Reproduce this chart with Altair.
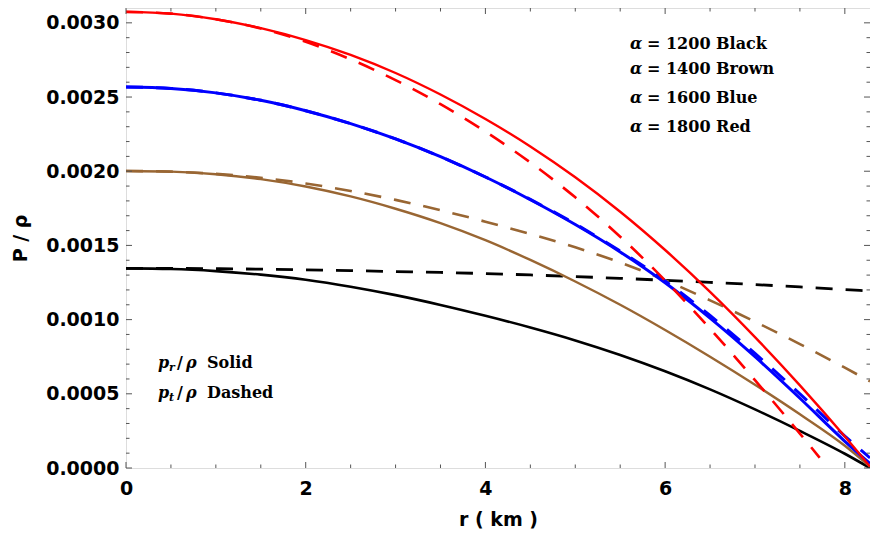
import altair as alt
import pandas as pd

# radial coordinate (km)
r = [0, 0.5, 1, 1.5, 2, 2.5, 3, 3.5, 4, 4.5, 5, 5.5, 6, 6.5, 7, 7.5, 8, 8.28]
r_red_dashed = [0, 0.5, 1, 1.5, 2, 2.5, 3, 3.5, 4, 4.5, 5, 5.5, 6, 6.5, 7, 7.5, 7.72]

# P/rho values in units of 1e-3
black_solid = [1.345, 1.341, 1.327, 1.303, 1.269, 1.222, 1.165, 1.099, 1.026, 0.947, 0.860, 0.762, 0.652, 0.530, 0.395, 0.250, 0.096, 0.0]
black_dashed = [1.345, 1.345, 1.343, 1.340, 1.335, 1.330, 1.324, 1.318, 1.310, 1.301, 1.290, 1.278, 1.265, 1.251, 1.236, 1.220, 1.203, 1.193]
brown_solid = [2.002, 1.997, 1.980, 1.947, 1.897, 1.830, 1.747, 1.650, 1.535, 1.402, 1.257, 1.100, 0.930, 0.750, 0.561, 0.362, 0.150, 0.010]
brown_dashed = [2.002, 1.997, 1.982, 1.956, 1.917, 1.867, 1.807, 1.737, 1.660, 1.577, 1.487, 1.385, 1.265, 1.130, 0.986, 0.835, 0.676, 0.584]
blue_solid = [2.568, 2.558, 2.528, 2.478, 2.408, 2.321, 2.218, 2.098, 1.961, 1.808, 1.641, 1.456, 1.248, 1.010, 0.750, 0.470, 0.180, 0.030]
blue_dashed = [2.568, 2.558, 2.528, 2.478, 2.408, 2.321, 2.218, 2.098, 1.961, 1.810, 1.645, 1.462, 1.260, 1.028, 0.772, 0.500, 0.215, 0.068]
red_solid = [3.074, 3.062, 3.024, 2.964, 2.884, 2.784, 2.662, 2.517, 2.352, 2.167, 1.959, 1.727, 1.469, 1.187, 0.882, 0.557, 0.212, 0.010]
red_dashed = [3.074, 3.062, 3.024, 2.962, 2.872, 2.754, 2.614, 2.452, 2.267, 2.059, 1.824, 1.559, 1.264, 0.939, 0.592, 0.232, 0.069]

x_ticks_major = [0, 2, 4, 6, 8]
x_ticks_minor = [0.5, 1, 1.5, 2.5, 3, 3.5, 4.5, 5, 5.5, 6.5, 7, 7.5]
y_ticks_major = [0, 0.0005, 0.001, 0.0015, 0.002, 0.0025, 0.003]
y_ticks_minor = [0.0001, 0.0002, 0.0003, 0.0004, 0.0006, 0.0007, 0.0008, 0.0009,
                 0.0011, 0.0012, 0.0013, 0.0014, 0.0016, 0.0017, 0.0018, 0.0019,
                 0.0021, 0.0022, 0.0023, 0.0024, 0.0026, 0.0027, 0.0028, 0.0029]

legend_alpha = ["= 1200 Black", "= 1400 Brown", "= 1600 Blue", "= 1800 Red"]

BLACK, BROWN, BLUE, RED = "#000000", "#996633", "#0000ff", "#ff0000"
W, H = 744, 460
PL, PT = 126, 8  # page position of plot origin
SANS = "DejaVu Sans"
SERIF = "DejaVu Serif"

x_scale = alt.Scale(domain=[0, 8.28], nice=False, zero=False)
y_scale = alt.Scale(domain=[0, 0.0031], nice=False, zero=False)

x_axis = alt.Axis(values=x_ticks_major, format="d", title="r ( km )", grid=False, ticks=False,
                  domain=False, labelFont=SANS, labelFontWeight="bold", labelFontSize=19,
                  labelColor="black", labelPadding=11, labelFlush=False, labelOverlap=False,
                  titleFont=SANS, titleFontWeight="bold", titleFontSize=19, titleColor="black",
                  titlePadding=12)
y_axis = alt.Axis(values=y_ticks_major, format=".4f", title="P / ρ", grid=False, ticks=False,
                  domain=False, labelFont=SANS, labelFontWeight="bold", labelFontSize=19,
                  labelColor="black", labelPadding=7, labelFlush=False, labelOverlap=False,
                  titleFont=SANS, titleFontWeight="bold", titleFontSize=19, titleColor="black",
                  titlePadding=15)

series = [
    (r, black_solid, BLACK, False, 2.6),
    (r, black_dashed, BLACK, True, 2.8),
    (r, brown_solid, BROWN, False, 2.4),
    (r, brown_dashed, BROWN, True, 2.6),
    (r, blue_solid, BLUE, False, 3.0),
    (r, blue_dashed, BLUE, True, 3.0),
    (r, red_solid, RED, False, 2.4),
    (r_red_dashed, red_dashed, RED, True, 2.6),
]

layers = []
for rr, vals, color, dashed, sw in series:
    df = pd.DataFrame({"r": rr, "p": [v * 1e-3 for v in vals]})
    kw = dict(color=color, strokeWidth=sw, interpolate="monotone", clip=True)
    if dashed:
        kw["strokeDash"] = [17, 13]
    layers.append(
        alt.Chart(df).mark_line(**kw).encode(
            x=alt.X("r:Q", scale=x_scale, axis=x_axis),
            y=alt.Y("p:Q", scale=y_scale, axis=y_axis),
        )
    )

TICK = "#555555"
def xticks(vals, length):
    d = pd.DataFrame({"r": vals})
    bottom = alt.Chart(d).mark_rule(color=TICK, strokeWidth=1).encode(
        x=alt.X("r:Q", scale=x_scale, axis=x_axis), y=alt.value(H), y2=alt.value(H - length))
    top = alt.Chart(d).mark_rule(color=TICK, strokeWidth=1).encode(
        x=alt.X("r:Q", scale=x_scale, axis=x_axis), y=alt.value(0), y2=alt.value(length))
    return [bottom, top]

def yticks(vals, length):
    d = pd.DataFrame({"p": vals})
    left = alt.Chart(d).mark_rule(color=TICK, strokeWidth=1).encode(
        y=alt.Y("p:Q", scale=y_scale, axis=y_axis), x=alt.value(0), x2=alt.value(length))
    right = alt.Chart(d).mark_rule(color=TICK, strokeWidth=1).encode(
        y=alt.Y("p:Q", scale=y_scale, axis=y_axis), x=alt.value(W), x2=alt.value(W - length))
    return [left, right]

tick_layers = xticks(x_ticks_major, 6) + xticks(x_ticks_minor, 3.5) + \
    yticks(y_ticks_major, 6) + yticks(y_ticks_minor, 3.5)

one = pd.DataFrame({"a": [0]})
def txt(s, px, py, size=16, style="normal", weight="bold", font=SERIF):
    return alt.Chart(one).mark_text(text=s, font=font, fontSize=size, fontWeight=weight,
                                    fontStyle=style, align="left", baseline="middle",
                                    color="black").encode(
        x=alt.value(px - PL), y=alt.value(py - PT))

text_layers = []
for label, py in zip(legend_alpha, [44, 69, 98, 127]):
    text_layers.append(txt("α", 630, py, style="italic"))
    text_layers.append(txt(label, 647, py))

for py, sub, word in [(363, "r", "Solid"), (393, "t", "Dashed")]:
    text_layers.append(txt("p", 158, py, style="italic"))
    text_layers.append(txt(sub, 169, py + 5, size=11, style="italic"))
    text_layers.append(txt("/", 177, py))
    text_layers.append(txt("ρ", 186, py, style="italic"))
    text_layers.append(txt(word, 207, py))

chart = alt.layer(*layers, *tick_layers, *text_layers).properties(
    width=W, height=H,
    autosize=alt.AutoSizeParams(type="none"),
    padding={"left": 118, "top": 0, "right": 0, "bottom": 64},
).configure_view(stroke="#555555", strokeWidth=1).configure(background="white")

chart.save("out.html", embed_options={"renderer": "svg", "actions": False})
